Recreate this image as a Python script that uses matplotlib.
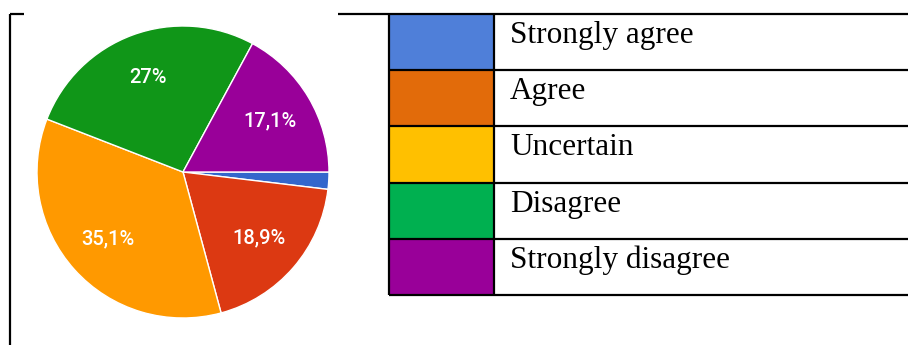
import matplotlib
matplotlib.use("Agg")
import matplotlib.pyplot as plt
from matplotlib.patches import Rectangle

categories = ["Strongly agree", "Agree", "Uncertain", "Disagree", "Strongly disagree"]
values = [1.9, 18.9, 35.1, 27.0, 17.1]
pct_labels = ["", "18,9%", "35,1%", "27%", "17,1%"]
pie_colors = ["#3366CC", "#DC3912", "#FF9900", "#109618", "#990099"]
legend_colors = ["#4F7FD9", "#E26B0A", "#FFC000", "#00B050", "#990099"]

W, H = 908, 345
fig = plt.figure(figsize=(W / 100, H / 100), dpi=100)

# Pie axes (pixel layout)
cx, cy, r = 183, 172, 146
ax = fig.add_axes([(cx - r) / W, (H - cy - r) / H, 2 * r / W, 2 * r / H])
lab_iter = iter(pct_labels)
wedges, texts, autotexts = ax.pie(
    values, colors=pie_colors, startangle=0, counterclock=False,
    autopct=lambda p: next(lab_iter), pctdistance=0.69,
    wedgeprops=dict(edgecolor="white", linewidth=1.0),
    textprops=dict(color="white", fontsize=14.5, family="Roboto", weight="medium"))
ax.set_xlim(-1, 1)
ax.set_ylim(-1, 1)
ax.set_aspect("equal")
ax.axis("off")

# Overlay axes for frame and legend table (pixel coordinates)
ov = fig.add_axes([0, 0, 1, 1], zorder=-1)
ov.set_xlim(0, W)
ov.set_ylim(H, 0)
ov.axis("off")
lw = 1.6
ov.plot([10, 10], [14, H], color="black", lw=lw, solid_capstyle="butt")
ov.plot([10, 24], [14, 14], color="black", lw=lw, solid_capstyle="butt")
ov.plot([338, 389], [14, 14], color="black", lw=lw, solid_capstyle="butt")

top, bottom = 14, 295
x0, x1, x2 = 389, 494, W + 5
n = len(categories)
rh = (bottom - top) / n
for i, (cat, col) in enumerate(zip(categories, legend_colors)):
    y = top + i * rh
    ov.add_patch(Rectangle((x0, y), x1 - x0, rh, facecolor=col, edgecolor="none"))
    ov.text(510, y + 29, cat, fontsize=22.5, family="Liberation Serif",
            va="baseline", ha="left", color="black")
for i in range(n + 1):
    y = top + i * rh
    ov.plot([x0, x2], [y, y], color="black", lw=lw, solid_capstyle="butt")
ov.plot([x0, x0], [top, bottom], color="black", lw=lw, solid_capstyle="butt")
ov.plot([x1, x1], [top, bottom], color="black", lw=lw, solid_capstyle="butt")

fig.savefig("out.png", dpi=100)
